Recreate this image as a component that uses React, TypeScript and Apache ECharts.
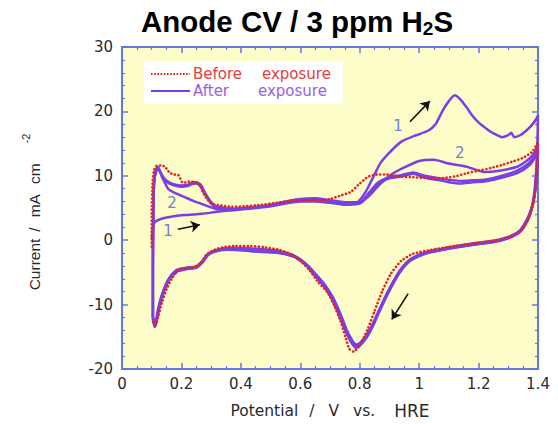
import React, { useEffect, useRef } from "react";
import * as echarts from "echarts";

// ---- Data (potential V vs. HRE, current mA cm^-2) ----
const xTicks = [0, 0.2, 0.4, 0.6, 0.8, 1.0, 1.2, 1.4];
const yTicks = [-20, -10, 0, 10, 20, 30];

const beforeExposure: number[][] = [
  [0.1, -1], [0.1, 4], [0.103, 9], [0.108, 10.9], [0.118, 11.6], [0.132, 11.6], [0.145, 11.4], [0.16, 10.5],
  [0.175, 10.2], [0.19, 10.1], [0.205, 8.9], [0.225, 9.1], [0.245, 9.0], [0.26, 8.7], [0.275, 7.2], [0.29, 6.2],
  [0.3, 5.7], [0.33, 5.4], [0.37, 5.2], [0.42, 5.3], [0.47, 5.5], [0.52, 5.8], [0.57, 6.1], [0.62, 6.2],
  [0.66, 6.2], [0.7, 6.4], [0.74, 7.0], [0.77, 7.5], [0.8, 8.8], [0.83, 9.9], [0.86, 10.2], [0.89, 10.2],
  [0.93, 9.9], [0.97, 9.8], [1.01, 9.7], [1.05, 9.6], [1.09, 9.7], [1.12, 9.9], [1.16, 10.4], [1.2, 10.8],
  [1.24, 11.2], [1.28, 11.7], [1.32, 12.3], [1.35, 12.8], [1.38, 13.7], [1.395, 14.8], [1.4, 15.2],
  [1.397, 11.5], [1.392, 8.5], [1.385, 6.0], [1.37, 3.6], [1.345, 1.6], [1.31, 0.6], [1.26, 0.0], [1.2, -0.4],
  [1.12, -0.9], [1.04, -1.5], [0.98, -2.1], [0.94, -3.2], [0.905, -5.2], [0.875, -8.0], [0.85, -11.0],
  [0.825, -14.0], [0.8, -16.3], [0.78, -17.3], [0.765, -16.9], [0.752, -15.0], [0.735, -12.5], [0.715, -10.2],
  [0.69, -8.0], [0.66, -6.5], [0.63, -4.6], [0.6, -3.2], [0.57, -2.2], [0.53, -1.5], [0.48, -1.1], [0.43, -0.9],
  [0.38, -0.9], [0.34, -1.1], [0.31, -1.5], [0.285, -2.2], [0.265, -3.5], [0.245, -4.1], [0.22, -4.3],
  [0.19, -4.7], [0.17, -5.8], [0.15, -7.6], [0.135, -9.6], [0.122, -11.8], [0.112, -13.2], [0.106, -12.6]
];

const afterCycle1: number[][] = [
  [0.1, 0.2], [0.104, 2.0], [0.11, 2.8], [0.13, 3.3], [0.16, 3.6], [0.21, 3.9], [0.27, 4.1], [0.32, 4.4],
  [0.38, 4.7], [0.43, 4.9], [0.49, 5.2], [0.55, 5.7], [0.6, 6.0], [0.65, 6.0], [0.7, 5.8], [0.75, 5.6],
  [0.79, 5.8], [0.82, 7.5], [0.85, 10.2], [0.87, 12.0], [0.9, 13.6], [0.94, 15.3], [0.99, 16.3], [1.03, 17.0],
  [1.055, 18.0], [1.08, 20.2], [1.1, 21.6], [1.12, 22.5], [1.14, 21.8], [1.16, 20.6], [1.18, 19.3], [1.2, 18.3],
  [1.23, 17.2], [1.25, 16.6], [1.28, 16.0], [1.3, 16.3], [1.31, 16.7], [1.32, 16.0], [1.34, 16.3], [1.36, 17.0],
  [1.38, 17.9], [1.395, 18.9], [1.4, 19.4],
  [1.398, 15.0], [1.394, 11.0], [1.388, 7.6], [1.378, 5.0], [1.36, 3.0], [1.335, 1.3], [1.3, 0.4], [1.25, -0.3],
  [1.2, -0.6], [1.1, -1.3], [1.0, -2.3], [0.96, -3.4], [0.93, -5.2], [0.9, -7.6], [0.87, -10.4], [0.845, -13.0],
  [0.82, -15.0], [0.795, -16.3], [0.78, -16.2], [0.765, -15.2], [0.748, -13.6], [0.725, -11.0], [0.7, -8.6],
  [0.67, -6.6], [0.64, -5.0], [0.62, -3.9], [0.58, -2.6], [0.52, -1.9], [0.46, -1.8], [0.4, -1.5], [0.35, -1.4],
  [0.32, -1.6], [0.29, -2.2], [0.27, -3.4], [0.25, -4.2], [0.21, -4.4], [0.18, -4.8], [0.155, -6.2],
  [0.132, -8.8], [0.12, -11.0], [0.11, -13.5], [0.104, -12.5]
];

const afterCycle2: number[][] = [
  [0.104, -12.5], [0.104, -5], [0.105, 3], [0.108, 9], [0.114, 11.0], [0.12, 11.3], [0.135, 9.8], [0.155, 8.0],
  [0.18, 7.3], [0.21, 6.7], [0.24, 6.1], [0.27, 5.6], [0.32, 4.8], [0.38, 4.7], [0.43, 5.0], [0.49, 5.3],
  [0.55, 5.9], [0.6, 6.2], [0.65, 6.3], [0.7, 6.0], [0.75, 5.5], [0.79, 5.6], [0.83, 6.8], [0.87, 8.8],
  [0.91, 10.3], [0.95, 11.3], [1.0, 12.3], [1.05, 12.5], [1.1, 11.9], [1.16, 11.4], [1.22, 10.6], [1.27, 10.8],
  [1.33, 11.4], [1.37, 12.6], [1.39, 13.8], [1.4, 15.0],
  [1.397, 11.5], [1.391, 8.0], [1.383, 5.6], [1.366, 3.2], [1.34, 1.4], [1.305, 0.5], [1.25, -0.2], [1.18, -0.6],
  [1.1, -1.2], [1.02, -2.0], [0.97, -3.0], [0.935, -4.8], [0.905, -7.2], [0.875, -10.0], [0.85, -12.6],
  [0.825, -14.8], [0.8, -16.2], [0.785, -16.4], [0.77, -15.6], [0.752, -14.0], [0.73, -11.4], [0.705, -8.9],
  [0.675, -6.8], [0.645, -5.2], [0.62, -3.8], [0.58, -2.5], [0.53, -1.9], [0.47, -1.7], [0.41, -1.3],
  [0.36, -1.2], [0.32, -1.5], [0.29, -2.1], [0.27, -3.3], [0.25, -4.1], [0.215, -4.3], [0.185, -4.7],
  [0.16, -5.9], [0.138, -8.2], [0.124, -10.6], [0.112, -13.2], [0.104, -12.2]
];

const afterCycle3: number[][] = [
  [0.104, -12.2], [0.104, -4], [0.105, 3], [0.108, 9], [0.115, 11.0], [0.121, 11.4], [0.13, 10.5], [0.144, 9.3],
  [0.16, 8.8], [0.177, 8.5], [0.2, 8.3], [0.22, 8.4], [0.235, 8.7], [0.25, 8.8], [0.265, 8.3], [0.278, 7.2],
  [0.295, 6.0], [0.312, 5.2], [0.35, 4.9], [0.38, 4.8], [0.43, 5.0], [0.49, 5.3], [0.55, 5.9], [0.6, 6.3],
  [0.65, 6.4], [0.7, 6.1], [0.75, 5.7], [0.8, 5.7], [0.83, 7.0], [0.86, 8.7], [0.9, 9.6], [0.94, 9.9],
  [0.98, 10.3], [1.02, 9.7], [1.07, 9.3], [1.1, 9.0], [1.14, 8.8], [1.18, 9.0], [1.22, 9.1], [1.27, 9.6],
  [1.33, 10.4], [1.37, 11.6], [1.39, 12.8], [1.4, 13.8],
  [1.397, 10.5], [1.39, 7.4], [1.382, 5.4], [1.365, 3.1], [1.34, 1.3], [1.3, 0.3], [1.25, -0.3], [1.18, -0.7],
  [1.1, -1.3], [1.02, -2.1], [0.97, -3.2], [0.935, -5.0], [0.905, -7.4], [0.875, -10.2], [0.85, -12.8],
  [0.825, -15.0], [0.8, -16.4], [0.787, -16.7], [0.772, -15.9], [0.754, -14.2], [0.732, -11.6], [0.707, -9.0],
  [0.677, -6.9], [0.647, -5.3], [0.62, -3.9], [0.58, -2.6], [0.53, -2.0], [0.47, -1.8], [0.41, -1.6],
  [0.36, -1.5], [0.32, -1.7], [0.29, -2.3], [0.27, -3.5], [0.25, -4.3], [0.215, -4.5], [0.185, -4.9],
  [0.16, -6.0], [0.138, -8.4], [0.124, -10.8], [0.112, -13.4], [0.104, -12.0]
];

const afterCycle4: number[][] = [
  [0.104, -12.0], [0.104, -4], [0.105, 3], [0.108, 9], [0.116, 10.8], [0.122, 11.1], [0.132, 10.3], [0.146, 9.4],
  [0.162, 8.9], [0.18, 8.6], [0.2, 8.5], [0.22, 8.6], [0.237, 9.0], [0.252, 9.0], [0.267, 8.5], [0.28, 7.3],
  [0.297, 6.1], [0.315, 5.3], [0.35, 5.0], [0.38, 4.9], [0.43, 5.1], [0.49, 5.4], [0.55, 6.0], [0.6, 6.4],
  [0.65, 6.5], [0.7, 6.2], [0.75, 5.9], [0.8, 5.9], [0.83, 7.3], [0.86, 8.9], [0.9, 9.8], [0.94, 10.1],
  [0.98, 10.5], [1.02, 10.0], [1.07, 9.6], [1.1, 9.4], [1.14, 9.2], [1.18, 9.3], [1.22, 9.4], [1.27, 9.9],
  [1.33, 10.8], [1.37, 12.0], [1.39, 13.2], [1.4, 14.2],
  [1.397, 10.8], [1.39, 7.6], [1.382, 5.5], [1.365, 3.2], [1.34, 1.5], [1.3, 0.5], [1.25, -0.1], [1.18, -0.5],
  [1.1, -1.1], [1.02, -1.9], [0.97, -3.0], [0.935, -4.7], [0.905, -7.1], [0.875, -9.9], [0.85, -12.4],
  [0.825, -14.6], [0.8, -16.0], [0.788, -16.2], [0.774, -15.5], [0.756, -13.9], [0.734, -11.3], [0.709, -8.8],
  [0.679, -6.7], [0.649, -5.1], [0.62, -3.7], [0.58, -2.4], [0.53, -1.7], [0.47, -1.4], [0.41, -1.2],
  [0.36, -1.2], [0.32, -1.5], [0.29, -2.1], [0.27, -3.3], [0.25, -4.1], [0.215, -4.3], [0.185, -4.6],
  [0.16, -5.8], [0.138, -8.1], [0.124, -10.5], [0.112, -13.0], [0.104, -12.0]
];

const cycleLabels: (number | string)[][] = [
  [0.155, 1.5, "1"],
  [0.168, 5.8, "2"],
  [0.929, 17.7, "1"],
  [1.137, 13.6, "2"]
];

const arrows: number[][][] = [
  [[0.188, 1.7], [0.262, 2.4]],
  [[0.969, 18.4], [1.036, 21.6]],
  [[0.963, -8.3], [0.908, -12.3]]
];

const legendItems = ["Before", "After"];

const PURPLE = "#7a3fe4";
const RED = "#e5231b";
const FRAME = "#6277e8";
const LABEL = "#2a2a2a";
const FONT = "DejaVu Sans";

export default function App() {
  const ref = useRef<HTMLDivElement>(null);

  useEffect(() => {
    if (!ref.current) return;
    const chart = echarts.init(ref.current, undefined, { renderer: "svg" });

    const axisCommon = {
      axisLine: { show: true, onZero: false, lineStyle: { color: FRAME, width: 2 } },
      axisTick: { show: true, inside: true, length: 6, lineStyle: { color: FRAME, width: 1.5 } },
      minorTick: { show: true, length: 3, lineStyle: { color: FRAME, width: 1.2 } },
      splitLine: { show: false },
    };

    const purpleSeries = [afterCycle1, afterCycle2, afterCycle3, afterCycle4].map((d, i) => ({
      type: "line",
      name: "After " + (i + 1),
      data: d,
      showSymbol: false,
      symbol: "none",
      smooth: 0.2,
      lineStyle: { color: PURPLE, width: 2.5 },
      z: 3,
    }));

    const xn = { color: LABEL, fontSize: 15.5, fontFamily: FONT };
    const yn = { color: LABEL, fontSize: 15.5, fontFamily: "Liberation Sans", lineHeight: 28, fill: LABEL };

    chart.setOption({
      animation: false,
      backgroundColor: "#ffffff",
      grid: {
        left: 122, right: 20, top: 47, bottom: 55,
        show: true, backgroundColor: "#fdfdc9", borderWidth: 0,
      },
      xAxis: [
        {
          type: "value", min: 0, max: 1.4, interval: 0.2, position: "bottom",
          ...axisCommon,
          minorTick: { ...axisCommon.minorTick, splitNumber: 4 },
          axisLabel: {
            color: LABEL, fontSize: 15, fontFamily: FONT, margin: 7,
            formatter: (v: number) => {
              const r = Math.round(v * 10) / 10;
              return xTicks.includes(r) ? String(r) : "";
            },
          },
          name: "{p|Potential}{q|/}{q|V}{r|vs.}{n|HRE}",
          nameLocation: "middle",
          nameGap: 33,
          nameTextStyle: {
            ...xn,
            rich: {
              p: { ...xn, padding: [0, 11, 0, 0] },
              q: { ...xn, padding: [0, 14, 0, 0] },
              r: { ...xn, padding: [0, 19, 0, 0] },
              n: { ...xn, fontSize: 17 },
            },
          },
        },
        {
          type: "value", min: 0, max: 1.4, interval: 0.2, position: "top",
          ...axisCommon,
          minorTick: { ...axisCommon.minorTick, splitNumber: 4 },
          axisLabel: { show: false },
        },
      ],
      yAxis: [
        {
          type: "value", min: -20, max: 30, interval: 10, position: "left",
          ...axisCommon,
          minorTick: { ...axisCommon.minorTick, splitNumber: 5 },
          axisLabel: {
            color: LABEL, fontSize: 15, fontFamily: FONT, margin: 9,
            formatter: (v: number) => (yTicks.includes(v) ? String(v) : ""),
          },
        },
        {
          type: "value", min: -20, max: 30, interval: 10, position: "right",
          ...axisCommon,
          minorTick: { ...axisCommon.minorTick, splitNumber: 5 },
          axisLabel: { show: false },
        },
      ],
      series: [
        ...purpleSeries,
        {
          type: "line",
          name: "Before",
          data: beforeExposure,
          showSymbol: false,
          symbol: "none",
          smooth: 0.2,
          lineStyle: { color: RED, width: 2.6, type: [0.1, 3.6], cap: "round" },
          z: 4,
        },
        {
          type: "lines",
          coordinateSystem: "cartesian2d",
          data: arrows.map((a) => ({ coords: a })),
          symbol: ["none", "arrow"],
          symbolSize: 9,
          lineStyle: { color: "#111111", width: 1.6, opacity: 1 },
          z: 5,
        },
        {
          type: "scatter",
          data: cycleLabels,
          symbolSize: 0,
          label: {
            show: true,
            position: "inside",
            formatter: (p: any) => String(p.value[2]),
            color: "#3f5fd8",
            fontSize: 15,
            fontFamily: FONT,
          },
          z: 5,
        },
      ],
      graphic: [
        {
          type: "text",
          x: 297,
          y: 21,
          style: {
            text: "{a|Anode CV / 3 ppm H}{s|2}{a|S}",
            align: "center",
            verticalAlign: "middle",
            rich: {
              a: { fontSize: 29.5, fontWeight: "bold", fontFamily: "Liberation Sans", lineHeight: 34, fill: "#000" },
              s: { fontSize: 19, fontWeight: "bold", fontFamily: "Liberation Sans", lineHeight: 22, verticalAlign: "bottom", fill: "#000" },
            },
          },
        },
        {
          type: "text",
          x: 34,
          y: 212,
          rotation: Math.PI / 2,
          style: {
            text: "{c|Current}{d|/}{d|mA}{e|cm}{s|-2}",
            align: "center",
            verticalAlign: "middle",
            rich: {
              c: { ...yn, padding: [0, 7, 0, 0] },
              d: { ...yn, padding: [0, 10, 0, 0] },
              e: { ...yn, padding: [0, 20, 0, 0] },
              s: { fontSize: 11, fontFamily: "Liberation Sans", lineHeight: 12, verticalAlign: "top", fill: LABEL },
            },
          },
        },
        {
          type: "group",
          children: [
            { type: "rect", shape: { x: 144, y: 61, width: 199, height: 43 }, style: { fill: "#ffffff" } },
            { type: "line", shape: { x1: 151, y1: 74, x2: 190, y2: 74 }, style: { stroke: RED, lineWidth: 2, lineDash: [1.6, 1.6] } },
            { type: "line", shape: { x1: 151, y1: 91, x2: 190, y2: 91 }, style: { stroke: PURPLE, lineWidth: 2.2 } },
            { type: "text", x: 193, y: 74, style: { text: legendItems[0], fill: "#e0403c", fontSize: 15, fontFamily: FONT, verticalAlign: "middle", align: "left" } },
            { type: "text", x: 262, y: 74, style: { text: "exposure", fill: "#e0403c", fontSize: 15, fontFamily: FONT, verticalAlign: "middle", align: "left" } },
            { type: "text", x: 193, y: 91, style: { text: legendItems[1], fill: "#9a5ee6", fontSize: 15, fontFamily: FONT, verticalAlign: "middle", align: "left" } },
            { type: "text", x: 258, y: 91, style: { text: "exposure", fill: "#9a5ee6", fontSize: 15, fontFamily: FONT, verticalAlign: "middle", align: "left" } },
          ],
        },
      ],
    });

    return () => chart.dispose();
  }, []);

  return <div ref={ref} style={{ width: 558, height: 424, position: "absolute", left: 0, top: 0 }} />;
}
